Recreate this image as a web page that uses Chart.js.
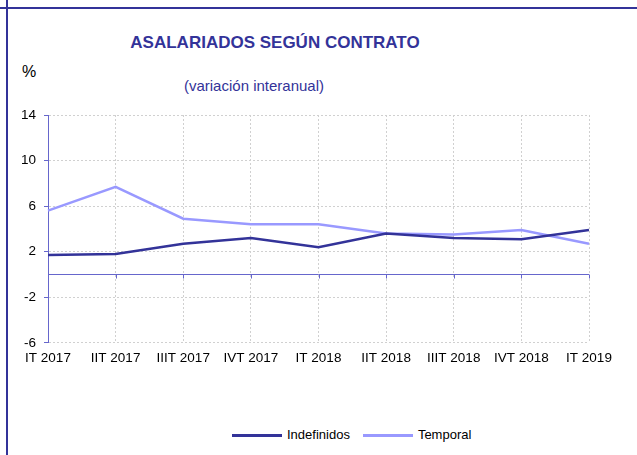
<!DOCTYPE html>
<html lang="es">

<head>
    <meta charset="UTF-8">
    <title>Asalariados según contrato</title>
    <style>
        html, body {
            margin: 0;
            padding: 0;
            width: 637px;
            height: 455px;
            overflow: hidden;
            background: #ffffff;
            font-family: "Liberation Sans", Arial, sans-serif;
        }

        .frame-left {
            position: absolute;
            left: 6px;
            top: 0;
            width: 2px;
            height: 455px;
            background: #333399;
        }

        .frame-top {
            position: absolute;
            left: 0;
            top: 7px;
            width: 637px;
            height: 2px;
            background: #333399;
        }

        .title {
            position: absolute;
            left: 0;
            width: 550px;
            top: 33px;
            text-align: center;
            font-size: 17px;
            line-height: 20px;
            font-weight: bold;
            color: #333399;
        }

        .subtitle {
            position: absolute;
            left: 0;
            width: 508px;
            top: 77px;
            text-align: center;
            font-size: 15px;
            line-height: 18px;
            color: #333399;
        }

        .unit {
            position: absolute;
            left: 22px;
            top: 63px;
            font-size: 16px;
            line-height: 18px;
            color: #000000;
        }

        .chart-box {
            position: absolute;
            left: 0;
            top: 0;
            width: 637px;
            height: 380px;
        }

        #legend {
            position: absolute;
            left: 232px;
            top: 427px;
            display: flex;
            align-items: center;
            font-size: 13px;
            line-height: 16px;
            color: #000000;
        }

        #legend .item {
            display: flex;
            align-items: center;
            margin-right: 13px;
        }

        #legend .swatch {
            width: 50px;
            height: 3px;
            margin-right: 5px;
        }
    </style>
</head>

<body>
    <div class="frame-left"></div>
    <div class="frame-top"></div>
    <div class="title">ASALARIADOS SEGÚN CONTRATO</div>
    <div class="subtitle">(variación interanual)</div>
    <div class="unit">%</div>

    <div class="chart-box">
        <canvas id="contratos"></canvas>
    </div>
    <div id="legend"></div>

    <script src="https://cdn.jsdelivr.net/npm/chart.js"></script>
    <script>
        const quarters = ["IT 2017", "IIT 2017", "IIIT 2017", "IVT 2017", "IT 2018",
            "IIT 2018", "IIIT 2018", "IVT 2018", "IT 2019"];
        const indefinidos = [1.7, 1.8, 2.7, 3.2, 2.4, 3.6, 3.2, 3.1, 3.9];
        const temporal = [5.6, 7.7, 4.9, 4.4, 4.4, 3.6, 3.5, 3.9, 2.7];
        const yMin = -6;
        const yMax = 14;
        const yStep = 4;

        // zero line with small tick marks under each quarter
        const zeroLine = {
            id: 'zeroLine',
            beforeDatasetsDraw(chart) {
                const { ctx, chartArea, scales } = chart;
                const y = Math.round(scales.y.getPixelForValue(0)) + 0.5;
                ctx.save();
                ctx.strokeStyle = '#6666CC';
                ctx.lineWidth = 1;
                ctx.beginPath();
                ctx.moveTo(chartArea.left, y);
                ctx.lineTo(chartArea.right, y);
                quarters.forEach((q, i) => {
                    const x = Math.round(scales.x.getPixelForValue(i)) + 0.5;
                    ctx.moveTo(x, y);
                    ctx.lineTo(x, y + 4);
                });
                ctx.stroke();
                ctx.restore();
            }
        };

        const data = {
            labels: quarters,
            datasets: [{
                label: 'Indefinidos',
                data: indefinidos,
                borderColor: '#333399',
                backgroundColor: '#333399',
                borderWidth: 2.5,
                pointRadius: 0,
                tension: 0,
            }, {
                label: 'Temporal',
                data: temporal,
                borderColor: '#9999FF',
                backgroundColor: '#9999FF',
                borderWidth: 2.5,
                pointRadius: 0,
                tension: 0,
            }]
        };

        const config = {
            type: 'line',
            data: data,
            options: {
                responsive: true,
                maintainAspectRatio: false,
                animation: false,
                layout: {
                    padding: { top: 115, right: 48, bottom: 7, left: 0 }
                },
                plugins: {
                    legend: { display: false },
                    tooltip: { enabled: false },
                },
                scales: {
                    x: {
                        offset: false,
                        grid: {
                            color: '#D0D0D0',
                            drawTicks: false,
                        },
                        border: { display: false, dash: [2, 2] },
                        ticks: {
                            color: '#000000',
                            padding: 7,
                            autoSkip: false,
                            maxRotation: 0,
                            font: { family: 'Liberation Sans', size: 13.5 },
                        },
                    },
                    y: {
                        min: yMin,
                        max: yMax,
                        afterFit(scale) {
                            scale.width = 48;
                        },
                        grid: {
                            color: '#D0D0D0',
                            tickColor: '#6666CC',
                            tickLength: 4,
                        },
                        border: { display: true, color: '#6666CC', dash: [2, 2] },
                        ticks: {
                            stepSize: yStep,
                            color: '#000000',
                            padding: 8,
                            font: { family: 'Liberation Sans', size: 13.5 },
                        },
                    },
                },
            },
            plugins: [zeroLine],
        };

        const ctx = document.getElementById('contratos').getContext('2d');
        const chart = new Chart(ctx, config);

        // legend built from the chart datasets
        const legendEl = document.getElementById('legend');
        chart.data.datasets.forEach(ds => {
            const item = document.createElement('div');
            item.className = 'item';
            const sw = document.createElement('span');
            sw.className = 'swatch';
            sw.style.background = ds.borderColor;
            const txt = document.createElement('span');
            txt.textContent = ds.label;
            item.appendChild(sw);
            item.appendChild(txt);
            legendEl.appendChild(item);
        });
    </script>
</body>

</html>
